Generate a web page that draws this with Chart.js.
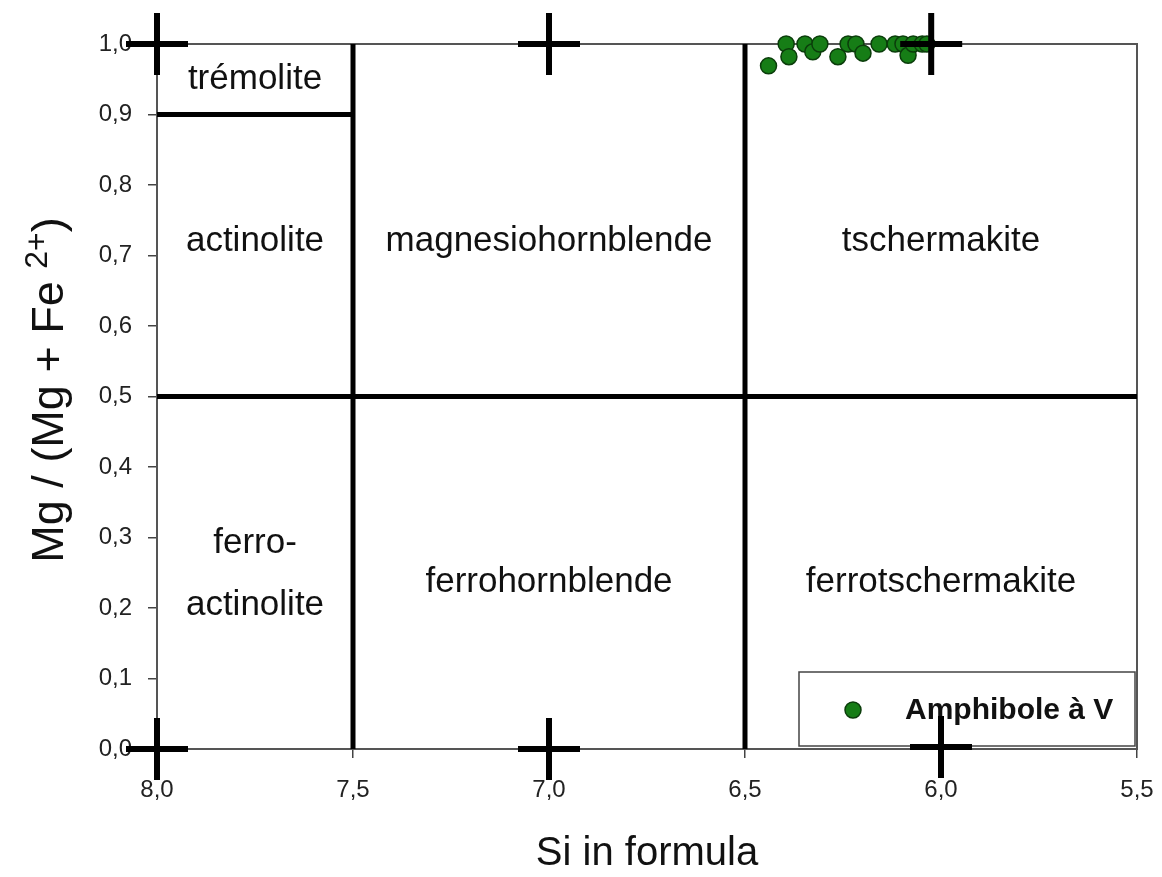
<!DOCTYPE html>
<html>
<head>
<meta charset="utf-8">
<script src="https://cdn.jsdelivr.net/npm/chart.js@4"></script>
<style>
html,body{margin:0;padding:0;background:#fff;}
#wrap{width:1162px;height:877px;}
</style>
</head>
<body>
<div id="wrap"><canvas id="c" width="1162" height="877"></canvas></div>
<script>
// ---- data ----
const siValues = [6.44, 6.395, 6.388, 6.347, 6.327, 6.309, 6.263, 6.237, 6.217, 6.199, 6.158, 6.117, 6.097, 6.084, 6.071, 6.048, 6.036];
const mgValues = [0.969, 1.0, 0.982, 1.0, 0.989, 1.0, 0.982, 1.0, 1.0, 0.987, 1.0, 1.0, 1.0, 0.984, 1.0, 1.0, 1.0];
const seriesName = "Amphibole à V";

const xTicks = [8.0, 7.5, 7.0, 6.5, 6.0, 5.5];
const yTicks = [0, 0.1, 0.2, 0.3, 0.4, 0.5, 0.6, 0.7, 0.8, 0.9, 1.0];

const crossX = [8.0, 7.0, 6.025, 8.0, 7.0, 6.0];
const crossY = [1.0, 1.0, 1.0, 0.0, 0.0, 0.003];

// boundary segments
const boundaryStartX = [8.0, 7.5, 6.5, 8.0];
const boundaryStartY = [0.9, 0.0, 0.0, 0.5];
const boundaryEndX   = [7.5, 7.5, 6.5, 5.5];
const boundaryEndY   = [0.9, 1.0, 1.0, 0.5];

const fieldNames = ["trémolite", "actinolite", "magnesiohornblende", "tschermakite", "ferro-", "actinolite", "ferrohornblende", "ferrotschermakite"];
const fieldX = [7.75, 7.75, 7.0, 6.0, 7.75, 7.75, 7.0, 6.0];
const fieldY = [0.95, 0.72, 0.72, 0.72, 0.292, 0.204, 0.237, 0.237];

const xTitle = "Si in formula";
const yTitleMain = "Mg / (Mg + Fe ";
const yTitleSup = "2+";
const yTitleEnd = ")";

// ---- build datasets ----
const fmt = v => Number(v).toFixed(1).replace('.', ',');
const pts = siValues.map((x, i) => ({x: x, y: mgValues[i]}));
const crosses = crossX.map((x, i) => ({x: x, y: crossY[i]}));
const boundaryDatasets = boundaryStartX.map((x, i) => ({
  data: [{x: x, y: boundaryStartY[i]}, {x: boundaryEndX[i], y: boundaryEndY[i]}],
  showLine: true, borderColor: '#000', borderWidth: 5, pointRadius: 0,
  borderCapStyle: 'butt', clip: false, order: 2, label: '_b' + i
}));

const FONT = '"Liberation Sans", Arial, sans-serif';

const decor = {
  id: 'decor',
  beforeDatasetsDraw(chart) {
    const ctx = chart.ctx, a = chart.chartArea;
    const xs = chart.scales.x, ys = chart.scales.y;
    ctx.save();
    // frame
    ctx.strokeStyle = '#555';
    ctx.lineWidth = 2;
    ctx.strokeRect(a.left, a.top, a.right - a.left, a.bottom - a.top);
    // field labels
    ctx.fillStyle = '#111';
    ctx.font = '35px ' + FONT;
    ctx.textAlign = 'center';
    ctx.textBaseline = 'middle';
    fieldNames.forEach((t, i) => {
      ctx.fillText(t, xs.getPixelForValue(fieldX[i]), ys.getPixelForValue(fieldY[i]));
    });
    // legend
    const lx = 799, ly = 672, lw = 336, lh = 74;
    ctx.fillStyle = '#fff';
    ctx.fillRect(lx, ly, lw, lh);
    ctx.strokeStyle = '#444';
    ctx.lineWidth = 1.5;
    ctx.strokeRect(lx, ly, lw, lh);
    ctx.beginPath();
    ctx.arc(853, 710, 8, 0, Math.PI * 2);
    ctx.fillStyle = '#167d16';
    ctx.fill();
    ctx.strokeStyle = '#0b3d0b';
    ctx.lineWidth = 1.5;
    ctx.stroke();
    ctx.fillStyle = '#111';
    ctx.font = 'bold 30px ' + FONT;
    ctx.textAlign = 'left';
    ctx.fillText(seriesName, 905, 711);
    // x title
    ctx.font = '40px ' + FONT;
    ctx.textAlign = 'center';
    ctx.textBaseline = 'alphabetic';
    ctx.fillText(xTitle, (a.left + a.right) / 2, 865);
    // y title, rotated
    ctx.translate(63, 390);
    ctx.rotate(-Math.PI / 2);
    ctx.font = '45px ' + FONT;
    const w1 = ctx.measureText(yTitleMain).width;
    ctx.font = '32px ' + FONT;
    const w2 = ctx.measureText(yTitleSup).width;
    ctx.font = '45px ' + FONT;
    const w3 = ctx.measureText(yTitleEnd).width;
    let x0 = -(w1 + w2 + w3) / 2;
    ctx.textAlign = 'left';
    ctx.fillText(yTitleMain, x0, 0);
    ctx.font = '32px ' + FONT;
    ctx.fillText(yTitleSup, x0 + w1, -16);
    ctx.font = '45px ' + FONT;
    ctx.fillText(yTitleEnd, x0 + w1 + w2, 0);
    ctx.restore();
  }
};

new Chart(document.getElementById('c'), {
  type: 'scatter',
  data: {
    datasets: [
      {label: '_cross', data: crosses, pointStyle: 'cross', pointRadius: 31, pointHoverRadius: 31,
       borderColor: '#000', borderWidth: 6, backgroundColor: '#000', clip: false, order: 0},
      {label: seriesName, data: pts, pointRadius: 8, pointHoverRadius: 8,
       backgroundColor: '#167d16', borderColor: '#0b3d0b', borderWidth: 1.5, clip: false, order: 1},
      ...boundaryDatasets
    ]
  },
  options: {
    responsive: false,
    animation: false,
    events: [],
    layout: {autoPadding: false, padding: {left: 0, right: 25, top: 44, bottom: 0}},
    plugins: {legend: {display: false}, tooltip: {enabled: false}, title: {display: false}},
    scales: {
      x: {
        type: 'linear', reverse: true, min: 5.5, max: 8.0,
        afterFit(s) { s.height = 128; s.paddingLeft = 0; s.paddingRight = 0; },
        afterBuildTicks(s) { s.ticks = xTicks.map(v => ({value: v})); },
        grid: {drawOnChartArea: false, drawTicks: true, tickLength: 9, color: '#444', lineWidth: 1.5},
        border: {display: false},
        ticks: {callback: v => fmt(v), color: '#222', font: {family: FONT, size: 24}, padding: 18, maxRotation: 0}
      },
      y: {
        type: 'linear', min: 0, max: 1,
        afterFit(s) { s.width = 157; s.paddingTop = 0; s.paddingBottom = 0; },
        afterBuildTicks(s) { s.ticks = yTicks.map(v => ({value: v})); },
        grid: {drawOnChartArea: false, drawTicks: true, tickLength: 9, color: '#444', lineWidth: 1.5},
        border: {display: false},
        ticks: {callback: v => fmt(v), color: '#222', font: {family: FONT, size: 24}, padding: 16}
      }
    }
  },
  plugins: [decor]
});
</script>
</body>
</html>
